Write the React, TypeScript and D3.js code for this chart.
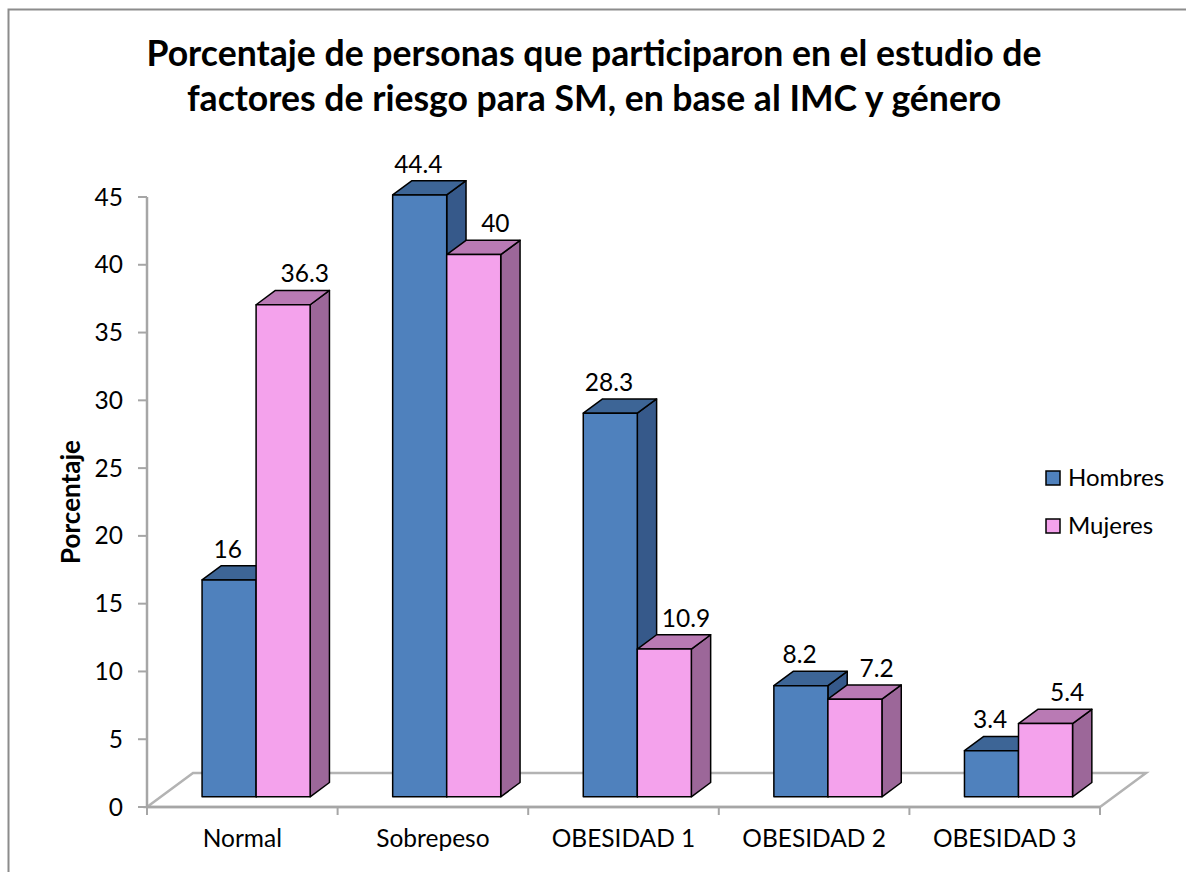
import * as React from 'react';
import * as d3 from 'd3';

const categories = ['Normal', 'Sobrepeso', 'OBESIDAD 1', 'OBESIDAD 2', 'OBESIDAD 3'];
const seriesNames = ['Hombres', 'Mujeres'];
const hombres = [16, 44.4, 28.3, 8.2, 3.4];
const mujeres = [36.3, 40, 10.9, 7.2, 5.4];
const yTicks = [0, 5, 10, 15, 20, 25, 30, 35, 40, 45];
const titleLines = [
    'Porcentaje de personas que participaron en el estudio de',
    'factores de riesgo para SM, en base al IMC y género'
];

const font = 'Lato, "Open Sans", sans-serif';
const colors = [
    { front: '#4f81bd', top: '#3d6596', side: '#36598a' },
    { front: '#f4a2ec', top: '#b97ab4', side: '#9c6799' }
];
// label horizontal nudge per series (as excel places them)
const labelNudge = [-11, 12];

const width = 1186;
const height = 872;
const plot = { left: 147, right: 1100, bottom: 807, top: 197 };
// floor depth vector
const depth = { dx: 46, dy: -34 };
const zFront = 0.3;
const zBack = 0.72;

const App = () => {
    const x = d3.scaleBand<string>()
        .domain(categories)
        .range([plot.left, plot.right])
        .padding(0);
    const bw = x.bandwidth();
    const groupW = bw * 0.567;
    const xs = d3.scaleBand<string>()
        .domain(seriesNames)
        .range([(bw - groupW) / 2, (bw + groupW) / 2])
        .padding(0);
    const y = d3.scaleLinear().domain([0, 45]).range([plot.bottom, plot.top]);

    const proj = (px: number, v: number, z: number): [number, number] =>
        [px + z * depth.dx, y(v) + z * depth.dy];
    const pts = (arr: [number, number][]) => arr.map(p => p.join(',')).join(' ');

    const floor = pts([
        proj(plot.left, 0, 0), proj(plot.right, 0, 0),
        proj(plot.right, 0, 1), proj(plot.left, 0, 1)
    ]);

    const values = [hombres, mujeres];

    const bars: React.ReactNode[] = [];
    const labels: React.ReactNode[] = [];
    categories.forEach((c, ci) => {
        seriesNames.forEach((s, si) => {
            const v = values[si][ci];
            const x0 = (x(c) || 0) + (xs(s) || 0);
            const x1 = x0 + xs.bandwidth();
            const col = colors[si];
            const front = pts([proj(x0, 0, zFront), proj(x1, 0, zFront), proj(x1, v, zFront), proj(x0, v, zFront)]);
            const top = pts([proj(x0, v, zFront), proj(x1, v, zFront), proj(x1, v, zBack), proj(x0, v, zBack)]);
            const side = pts([proj(x1, 0, zFront), proj(x1, 0, zBack), proj(x1, v, zBack), proj(x1, v, zFront)]);
            bars.push(
                <g key={c + s} stroke="#000" strokeWidth={1.5} strokeLinejoin="round">
                    <polygon points={side} fill={col.side} />
                    <polygon points={top} fill={col.top} />
                    <polygon points={front} fill={col.front} />
                </g>
            );
            const [lx, ly] = proj((x0 + x1) / 2, v, zBack);
            labels.push(
                <text key={'l' + c + s} x={lx - (zBack - zFront) * depth.dx / 2 + labelNudge[si]} y={ly - 8}
                    textAnchor="middle" fontSize={24.5}>{v}</text>
            );
        });
    });

    return (
        <svg width={width} height={height} style={{ position: 'absolute', left: 0, top: 0 }}
            fontFamily={font}>
            <rect x={0} y={0} width={width} height={height} fill="#fff" />
            <rect x={8.5} y={9.5} width={width + 10} height={height + 10} fill="none" stroke="#8c8c8c" strokeWidth={2} />

            {titleLines.map((t, i) => (
                <text key={t} x={594} y={66 + i * 45} textAnchor="middle" fontSize={35.6} fontWeight="bold">{t}</text>
            ))}

            <polygon points={floor} fill="none" stroke="#b3b3b3" strokeWidth={2.5} />
            <line x1={plot.left} x2={plot.left} y1={plot.top} y2={plot.bottom} stroke="#a6a6a6" strokeWidth={2.5} />
            <line x1={plot.left} x2={plot.right} y1={plot.bottom} y2={plot.bottom} stroke="#a6a6a6" strokeWidth={2.5} />

            {yTicks.map(t => (
                <g key={t}>
                    <line x1={plot.left - 9} x2={plot.left} y1={y(t)} y2={y(t)} stroke="#a6a6a6" strokeWidth={2} />
                    <text x={plot.left - 24} y={y(t)} dy="0.35em" textAnchor="end" fontSize={24.5}>{t}</text>
                </g>
            ))}
            {[...categories.map(c => x(c) || 0), plot.right].map((tx, i) => (
                <line key={i} x1={tx} x2={tx} y1={plot.bottom} y2={plot.bottom + 8} stroke="#a6a6a6" strokeWidth={2} />
            ))}
            {categories.map(c => (
                <text key={c} x={(x(c) || 0) + bw / 2} y={847}
                    textAnchor="middle" fontSize={24.5}>{c}</text>
            ))}

            {bars}
            {labels}

            <text transform={`translate(80,502) rotate(-90)`} textAnchor="middle" fontSize={26} fontWeight="bold">Porcentaje</text>

            {seriesNames.map((s, i) => (
                <g key={s} transform={`translate(1046,${471 + i * 48})`}>
                    <rect x={0} y={0} width={14} height={14} fill={colors[i].front} stroke="#000" strokeWidth={1.5} />
                    <text x={22} y={7} dy="0.35em" fontSize={24}>{s}</text>
                </g>
            ))}
        </svg>
    );
};

export default App;
